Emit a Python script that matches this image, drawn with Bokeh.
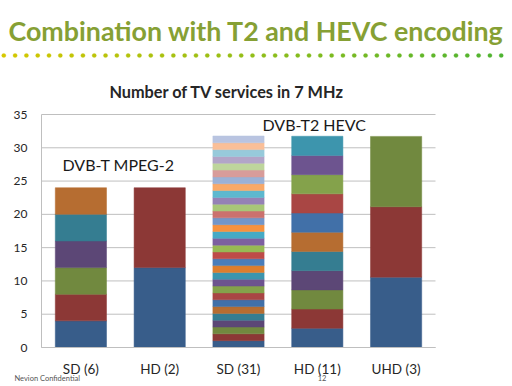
import numpy as np
from bokeh.plotting import figure
from bokeh.models import ColumnDataSource, Range1d, Label, FixedTicker
from bokeh.embed import file_html
from bokeh.resources import INLINE

# ---------------- data ----------------
categories = ["SD (6)", "HD (2)", "SD (31)", "HD (11)", "UHD (3)"]
sd6_segments = [4, 4, 4, 4, 4, 4]
hd2_segments = [12, 12]
sd31_segments = [1.025] * 31
hd11_segments = [2.885] * 11
uhd3_segments = [10.57, 10.57, 10.57]
y_ticks = [0, 5, 10, 15, 20, 25, 30, 35]
y_max = 35

main_title = "Combination with T2 and HEVC encoding"
chart_title = "Number of TV services in 7 MHz"
label_t = "DVB-T MPEG-2"
label_t2 = "DVB-T2 HEVC"
footer_left = "Nevion Confidential"
footer_page = "12"

# segment colours, bottom to top (shared by all bars)
palette = [
    "#385D8A", "#8C3836", "#71893F", "#5C4776", "#357D91", "#B66D31",
    "#4170A8", "#A94644", "#84A24B", "#6D548F", "#3D95AD", "#DE7E2E",
    "#4A7EBB", "#BE4B48", "#98B954", "#7D60A0", "#46AAC5", "#F69240",
    "#7296CA", "#CB716E", "#A8C778", "#9582B5", "#5DB8CF", "#F9A968",
    "#9BB1D6", "#D89C9A", "#BED59C", "#B2A5C8", "#97CADB", "#FABF98",
    "#B9C4E1",
]

FONT = "Lato"

# ---------------- geometry of the chart area (px on the page) ----------------
W, H = 512, 386
PLOT_L, PLOT_R, PLOT_T, PLOT_B = 41, 435, 114, 347
PX_X = (PLOT_R - PLOT_L) / len(categories)
PX_Y = (PLOT_B - PLOT_T) / y_max
def dx(px):
    return (px - PLOT_L) / PX_X
def dy(py):
    return (PLOT_B - py) / PX_Y

# ---------------- stacked segments ----------------
x_pos = [i + 0.5 for i in range(len(categories))]
all_segments = [sd6_segments, hd2_segments, sd31_segments, hd11_segments, uhd3_segments]
xs, bottoms, tops, colors = [], [], [], []
for xp, segs in zip(x_pos, all_segments):
    cum = np.concatenate([[0.0], np.cumsum(segs)])
    for i in range(len(segs)):
        xs.append(xp)
        bottoms.append(cum[i])
        tops.append(cum[i + 1])
        colors.append(palette[i])
src = ColumnDataSource(dict(x=xs, bottom=bottoms, top=tops, color=colors))

# ---------------- figure (frame spans whole canvas) ----------------
p = figure(width=W, height=H, title=None,
           x_range=Range1d(dx(0), dx(W)), y_range=Range1d(dy(H), dy(0)),
           output_backend="svg", toolbar_location=None,
           min_border=0, min_border_left=0, min_border_right=0,
           min_border_top=0, min_border_bottom=0)
p.background_fill_color = "white"
p.border_fill_color = "white"
p.outline_line_color = None
p.xgrid.visible = False
p.ygrid.visible = False

# horizontal gridlines at the y ticks, across the category span
p.segment(x0=[0] * len(y_ticks), x1=[len(categories)] * len(y_ticks), y0=y_ticks, y1=y_ticks,
          line_color="#BFBFBF", line_width=1)

p.vbar(x="x", bottom="bottom", top="top", width=0.65, source=src,
       fill_color="color", line_color="color", line_width=0.5)

# axes pinned at the data origin
p.yaxis.fixed_location = 0
p.xaxis.fixed_location = 0
p.yaxis.bounds = (0, y_max)
p.xaxis.bounds = (0, len(categories))
p.yaxis.ticker = FixedTicker(ticks=y_ticks)
p.xaxis.ticker = FixedTicker(ticks=x_pos)
p.xaxis.major_label_overrides = {xp: c for xp, c in zip(x_pos, categories)}

for ax in (p.xaxis, p.yaxis):
    ax.axis_line_color = "#BFBFBF"
    ax.axis_line_width = 1
    ax.major_tick_line_color = None
    ax.minor_tick_line_color = None
    ax.major_tick_out = 0
    ax.major_tick_in = 0
    ax.major_label_text_font = FONT
    ax.major_label_text_color = "#262626"

p.yaxis.major_label_text_font_size = "12px"
p.yaxis.major_label_standoff = 14
p.xaxis.major_label_text_font_size = "13.5px"
p.xaxis.major_label_standoff = 13

# titles and labels (vertical positions are text middles)
p.add_layout(Label(x=dx(8), y=dy(30), text=main_title, text_font=FONT, text_font_style="bold",
                   text_font_size="26.8px", text_color="#86A034", text_baseline="middle",
                   background_fill_color=None, border_line_color=None))
p.add_layout(Label(x=dx(226.5), y=dy(90.5), text=chart_title, text_font=FONT, text_font_style="bold",
                   text_font_size="16.3px", text_color="#262626", text_align="center",
                   text_baseline="middle"))
p.add_layout(Label(x=dx(62), y=dy(164), text=label_t, text_font=FONT,
                   text_font_size="16px", text_color="#1A1A1A", text_baseline="middle"))
p.add_layout(Label(x=dx(262), y=dy(123.5), text=label_t2, text_font=FONT,
                   text_font_size="16px", text_color="#1A1A1A", text_baseline="middle"))
p.add_layout(Label(x=dx(14), y=dy(377.7), text=footer_left, text_font=FONT,
                   text_font_size="7.5px", text_color="#555555", text_baseline="middle"))
p.add_layout(Label(x=dx(321.5), y=dy(377.7), text=footer_page, text_font=FONT, text_align="center",
                   text_font_size="7.5px", text_color="#555555", text_baseline="middle"))

# decorative dotted rule under the title, yellow -> green
n_dots = 45
dot_px = 3.3 + 11.305 * np.arange(n_dots)
c0 = np.array([0xD6, 0xC8, 0x00])
c1 = np.array([0x4E, 0xB4, 0x32])
t = np.linspace(0, 1, n_dots)
dot_colors = ["#%02X%02X%02X" % tuple((c0 + (c1 - c0) * tt).astype(int)) for tt in t]
dot_src = ColumnDataSource(dict(x=[dx(v) for v in dot_px], y=[dy(55)] * n_dots, c=dot_colors))
p.scatter(x="x", y="y", source=dot_src, marker="circle", size=4.2,
          fill_color="c", line_color="c", line_width=0.3, level="overlay")

open("out.html", "w").write(file_html(p, INLINE))
